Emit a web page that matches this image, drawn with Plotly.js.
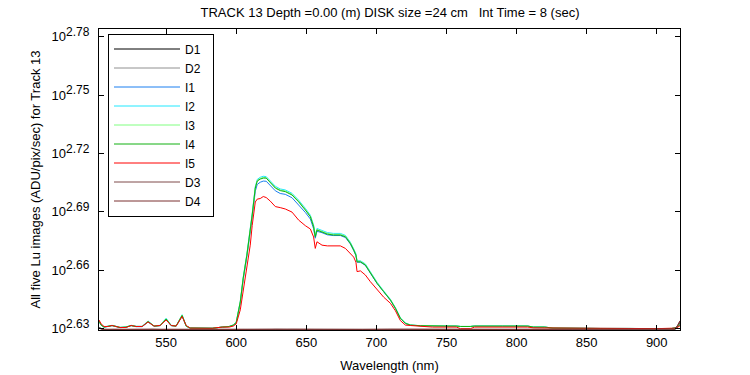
<!DOCTYPE html>
<html>
<head>
<meta charset="utf-8">
<script src="https://cdn.plot.ly/plotly-3.0.1.min.js"></script>
<style>html,body{margin:0;padding:0;background:#fff}#chart{width:750px;height:375px}</style>
</head>
<body>
<div id="chart"></div>
<script>
// Wavelength grid (nm) for the illuminated images
const wl = [502.1,503.6,505.7,508.6,511.4,514.3,517.1,521.4,525,528.6,532.9,537.1,541.4,545.7,550,553.6,557.1,561.4,564.3,567.1,574.3,582.9,590,595,597.9,600,602.9,605,607.6,610,611.4,613.6,615,617.1,619.3,621.4,624.3,627.9,631.4,635,639.8,644.5,649.3,652.9,655.2,656.4,657.6,661.2,665,669.3,674.3,677.9,681.4,683.8,685.4,686.2,688.6,692.1,695.7,700.5,705.2,710,713.6,717.1,720.7,724.3,731.4,740,750,757,760,767,770,790,808,812,820,826,840,860,880,900,910,914,916.6];

const I4 = [430.4,428.3,427.3,427.6,428.1,427.6,427.1,427.3,428.1,427.6,427.6,430.1,427.8,428.1,431.4,428.1,427.8,433.2,427.8,426.8,426.7,426.7,427.3,427.6,428.3,429.6,440.2,452.8,465.3,478.2,487.9,503.7,507.9,509.1,509.7,509.7,506.7,503.7,502.2,501.6,499.6,495.6,490.8,486.9,481.2,475.5,479.3,478.3,477.0,476.5,476.5,475.5,471.8,468.1,465.3,461.6,461.6,459.9,455.4,450.0,445.6,441.2,436.9,431.8,429.2,428.3,428.0,427.8,427.8,427.8,427.6,427.6,427.8,427.8,427.8,427.3,427.3,426.8,426.6,426.6,426.6,426.5,426.5,427.0,428.5];

const I3 = [430.4,428.3,427.3,427.6,428.1,427.6,427.1,427.3,428.1,427.6,427.6,430.2,427.8,428.1,431.5,428.1,427.8,433.4,427.8,426.8,426.7,426.7,427.3,427.6,428.3,429.7,440.4,453.0,465.6,478.5,488.3,504.0,508.3,509.5,510.1,510.0,507.1,504.1,502.6,502.0,500.0,496.0,491.2,487.3,481.6,475.9,479.7,478.7,477.4,476.9,476.9,475.9,472.1,468.4,465.6,461.9,461.9,460.2,455.7,450.3,445.8,441.4,437.0,431.9,429.3,428.3,428.0,427.8,427.8,427.8,427.6,427.6,427.8,427.8,427.8,427.3,427.3,426.8,426.6,426.6,426.6,426.5,426.5,427.0,428.5];

const I2 = [430.5,428.4,427.4,427.7,428.2,427.7,427.2,427.4,428.2,427.7,427.7,430.4,427.9,428.2,431.8,428.2,427.9,433.6,427.9,426.9,426.7,426.7,427.3,427.6,428.4,429.8,440.6,453.3,466.0,479.0,488.8,504.6,508.9,510.2,510.8,510.6,507.8,504.8,503.2,502.6,500.6,496.6,491.8,487.8,482.1,476.3,480.2,479.2,477.9,477.4,477.4,476.3,472.5,468.8,466.0,462.2,462.2,460.5,456.0,450.6,446.0,441.6,437.2,432.0,429.4,428.4,428.0,427.8,427.8,427.8,427.6,427.6,427.8,427.8,427.8,427.3,427.3,426.8,426.6,426.6,426.6,426.5,426.5,427.0,428.5];

const I1 = [430.3,428.2,427.2,427.5,428.0,427.5,427.0,427.2,428.0,427.5,427.5,429.9,427.7,428.0,431.1,428.0,427.7,432.9,427.7,426.8,426.7,426.7,427.3,427.6,428.2,429.4,439.6,452.0,464.5,477.2,486.6,501.9,505.9,507.2,507.9,507.8,505.0,502.1,500.5,500.0,498.0,494.0,489.4,485.6,480.1,474.7,478.6,477.8,476.6,476.2,476.2,475.1,471.5,467.8,465.0,461.4,461.4,459.7,455.2,449.9,445.5,441.1,436.8,431.7,429.1,428.2,428.0,427.8,427.8,427.8,427.6,427.6,427.8,427.8,427.8,427.3,427.3,426.8,426.6,426.6,426.6,426.5,426.5,427.0,428.5];

const I5 = [430.9,428.9,427.6,427.6,428.1,427.6,427.1,427.1,428.1,427.6,427.6,429.9,427.8,428.1,430.9,428.1,427.8,432.7,428.1,426.8,426.7,426.7,427.3,427.3,427.8,428.9,436.1,446.5,459.9,470.8,481.9,495.5,497.2,497.5,498.7,498.1,496.0,492.8,492.2,491.4,489.6,485.0,481.8,479.9,475.4,469.0,472.7,470.8,470.4,470.4,470.4,469.0,466.2,464.2,461.4,456.3,456.7,454.5,450.9,446.5,442.7,439.5,435.6,430.6,428.3,428.1,427.6,427.3,427.3,427.3,426.5,426.5,427.3,427.3,427.3,426.9,426.9,426.6,426.6,426.6,426.6,426.5,426.5,426.8,428.0];

// Wavelength grid (nm) for the dark images
const wlD = [502.1,505,512,520,530,540,550,560,570,585,600,606,612,620,628,640,655,670,690,710,730,760,800,840,880,905,910,913,915,916.6];
const D1 = [427.2,426.0,426.1,425.9,426.0,426.1,425.9,426.0,426.0,425.9,426.0,426.1,425.9,426.0,426.1,425.9,426.0,426.0,425.9,426.0,426.0,425.9,426.0,426.0,425.9,426.0,426.6,426.1,427.5,429.5];
const D2 = [427.0,426.1,426.0,426.1,426.0,426.2,426.0,426.1,426.0,426.1,426.1,426.0,426.2,426.1,426.0,426.1,426.0,426.1,426.0,426.1,426.0,426.1,426.1,426.0,426.1,426.1,426.4,426.2,427.8,430.0];
const D3 = [426.8,426.1,426.2,426.1,426.2,426.1,426.2,426.1,426.2,426.1,426.2,426.2,426.1,426.2,426.3,426.1,426.2,426.1,426.2,426.1,426.2,426.1,426.2,426.1,426.2,426.1,426.3,426.2,428.0,430.3];
const D4 = [426.6,426.2,426.1,426.2,426.1,426.2,426.1,426.2,426.1,426.2,426.1,426.2,426.2,426.1,426.2,426.2,426.1,426.2,426.1,426.2,426.1,426.2,426.1,426.2,426.1,426.2,426.2,426.3,428.3,430.5];

// Y tick exponents (ticks at 10^exp) and x tick values
const yTickExps = ["2.63","2.66","2.69","2.72","2.75","2.78"];
const xTickVals = [550,600,650,700,750,800,850,900];

const series = [
  {name:"D1", x:wlD, y:D1, color:"#000000"},
  {name:"D2", x:wlD, y:D2, color:"#909090"},
  {name:"I1", x:wl, y:I1, color:"#1a7ff0"},
  {name:"I2", x:wl, y:I2, color:"#20e8ff"},
  {name:"I3", x:wl, y:I3, color:"#80ff80"},
  {name:"I4", x:wl, y:I4, color:"#10b010"},
  {name:"I5", x:wl, y:I5, color:"#ff0000"},
  {name:"D3", x:wlD, y:D3, color:"#7e4a4a"},
  {name:"D4", x:wlD, y:D4, color:"#7a3030"}
];

const traces = series.map(s => ({
  type:"scatter", mode:"lines", name:s.name + "\u00A0\u00A0", x:s.x, y:s.y,
  line:{color:s.color, width:1}
}));

const tickvals = yTickExps.map(e => Math.pow(10, parseFloat(e)));
const ticktext = yTickExps.map(e => "10<sup><span style='font-size:12px'>" + e + "</span></sup>");

const fam = "Liberation Sans, Arial, sans-serif";
const font = {family:fam, size:12, color:"#000"};

const layout = {
  width:750, height:375,
  margin:{l:99, r:70, t:29, b:45, pad:0},
  paper_bgcolor:"#fff", plot_bgcolor:"#fff",
  font:font,
  showlegend:true,
  title:{text:"TRACK 13 Depth =0.00 (m) DISK size =24 cm\u00A0\u00A0\u00A0Int Time = 8 (sec)", x:0.52, xanchor:"center", y:0.98, yanchor:"top", font:{family:fam, size:13, color:"#000"}},
  xaxis:{
    range:[502.1, 916.6], tickvals:xTickVals, ticks:"inside", ticklen:5, tickcolor:"#000",
    showline:true, linecolor:"#000", linewidth:1, mirror:"ticks", showgrid:false, zeroline:false,
    title:{text:"Wavelength (nm)", font:{size:13}, standoff:12}, tickfont:{size:13}
  },
  yaxis:{
    type:"log", range:[2.62923, 2.78396], tickvals:tickvals, ticktext:ticktext,
    ticks:"inside", ticklen:5, tickcolor:"#000", ticklabelstandoff:6,
    showline:true, linecolor:"#000", linewidth:1, mirror:"ticks", showgrid:false, zeroline:false,
    title:{text:"All five Lu images (ADU/pix/sec) for Track 13", font:{size:13}, standoff:8}, tickfont:{size:13}
  },
  legend:{
    x:0.0155, y:0.985, xanchor:"left", yanchor:"top",
    bgcolor:"#fff", bordercolor:"#000", borderwidth:1,
    font:{family:fam, size:12, color:"#000"},
    tracegroupgap:0, itemwidth:66
  }
};

Plotly.newPlot("chart", traces, layout, {staticPlot:true, displayModeBar:false});
</script>
</body>
</html>
